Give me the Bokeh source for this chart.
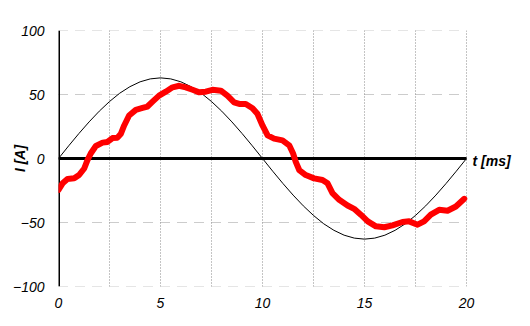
from bokeh.plotting import figure
from bokeh.models import FixedTicker
from bokeh.core.properties import value
from bokeh.embed import file_html
from bokeh.resources import INLINE

# ---- data ----
x_ticks = [0, 5, 10, 15, 20]
y_ticks = [-100, -50, 0, 50, 100]
x_grid = [2.5, 5, 7.5, 10, 12.5, 15, 17.5, 20]
y_grid = [-100, -50, 50, 100]
t_min, t_max = 0, 20
i_min, i_max = -100, 100

# reference sine (thin black)
sine_t = [0, 0.5, 1, 1.5, 2, 2.5, 3, 3.5, 4, 4.5, 5, 5.5, 6, 6.5, 7, 7.5, 8, 8.5, 9, 9.5, 10,
          10.5, 11, 11.5, 12, 12.5, 13, 13.5, 14, 14.5, 15, 15.5, 16, 16.5, 17, 17.5, 18, 18.5, 19, 19.5, 20]
sine_i = [0, 9.9, 19.5, 28.6, 37.0, 44.5, 51.0, 56.1, 59.9, 62.2, 63.0, 62.2, 59.9, 56.1, 51.0, 44.5, 37.0, 28.6, 19.5, 9.9, 0,
          -9.9, -19.5, -28.6, -37.0, -44.5, -51.0, -56.1, -59.9, -62.2, -63.0, -62.2, -59.9, -56.1, -51.0, -44.5, -37.0, -28.6, -19.5, -9.9, 0]

# measured current (thick red)
red_t = [0, 0.2, 0.44, 0.77, 1.01, 1.26, 1.42, 1.58, 1.83, 2.16, 2.4, 2.65, 2.89, 3.06, 3.22, 3.46,
         3.79, 4.12, 4.36, 4.61, 4.93, 5.26, 5.59, 5.92, 6.24, 6.57, 6.9, 7.22, 7.55, 7.96, 8.28,
         8.61, 8.86, 9.18, 9.51, 9.75, 10.0, 10.25, 10.57, 10.98, 11.31, 11.5, 11.63, 11.8, 12.12,
         12.53, 12.94, 13.19, 13.43, 13.76, 14.17, 14.49, 14.82, 15.16, 15.56, 15.97, 16.37, 16.86,
         17.19, 17.6, 17.92, 18.25, 18.66, 19.07, 19.48, 19.89]
red_i = [-24.5, -19.4, -16.0, -15.5, -12.9, -7.8, -1.3, 3.9, 9.8, 12.4, 12.9, 16.0, 16.3, 19.4, 25.8, 33.6,
         38.0, 39.5, 40.6, 44.4, 49.1, 52.2, 55.6, 56.8, 55.6, 53.7, 51.7, 52.2, 53.7, 53.0, 49.1,
         43.9, 42.6, 42.6, 39.3, 34.9, 25.8, 18.1, 15.5, 14.2, 10.3, 3.9, -2.6, -9.0, -12.9,
         -15.5, -16.8, -19.4, -27.1, -32.3, -36.7, -39.3, -43.9, -49.1, -53.0, -53.7, -52.2, -49.6,
         -49.1, -51.7, -49.1, -43.9, -40.1, -40.8, -37.5, -31.5]

TICK_FONT = "Liberation Sans Narrow, Arial Narrow, Liberation Sans, Arial"

# frame: 20 ms spans 408 px; the frame is extended to the right edge so the
# "t [ms]" label can be drawn next to the time axis
left_px, right_px = 58, 530
px_per_ms = 408 / (t_max - t_min)
x_end = t_min + (right_px - left_px) / px_per_ms

p = figure(width=530, height=326, x_range=(t_min, x_end), y_range=(i_min, i_max),
           output_backend="svg", toolbar_location=None,
           min_border_left=left_px, min_border_right=0, min_border_top=30, min_border_bottom=40)
p.outline_line_color = None
p.background_fill_color = "white"
p.border_fill_color = "white"
p.grid.visible = False

# axes (labels only)
for ax in (p.xaxis[0], p.yaxis[0]):
    ax.axis_line_color = None
    ax.major_tick_line_color = None
    ax.minor_tick_line_color = None
    ax.major_label_text_font = TICK_FONT
    ax.major_label_text_font_style = "italic"
    ax.major_label_text_font_size = "14px"
    ax.major_label_text_color = "black"
p.xaxis.ticker = FixedTicker(ticks=x_ticks)
p.yaxis.ticker = FixedTicker(ticks=y_ticks)
p.xaxis.major_label_standoff = 5
p.yaxis.major_label_standoff = 8
p.yaxis.axis_label = "I [A]"
p.yaxis.axis_label_text_font = "Liberation Sans"
p.yaxis.axis_label_text_font_style = "bold italic"
p.yaxis.axis_label_text_font_size = "14px"
p.yaxis.axis_label_text_color = "black"
p.yaxis.axis_label_standoff = -18

# dotted grid
p.segment(x0=x_grid, y0=[i_min] * len(x_grid), x1=x_grid, y1=[i_max] * len(x_grid),
          line_color="#888888", line_width=1, line_dash="1 2")
p.segment(x0=[t_min] * len(y_grid), y0=y_grid, x1=[t_max] * len(y_grid), y1=y_grid,
          line_color="#999999", line_width=1, line_dash="1 1 1 1 1 1 1 1 1 8")

# thick axis lines
p.line([t_min, t_min], [i_min, i_max], line_color="black", line_width=3)
p.line([t_min, t_max], [0, 0], line_color="black", line_width=3)

# curves
p.line(sine_t, sine_i, line_color="black", line_width=1)
p.line(red_t, red_i, line_color="#ff0000", line_width=6, line_join="round", line_cap="round")

# time axis label
p.text(x=[t_max], y=[0], text=["t [ms]"], x_offset=6, y_offset=2,
       text_align="left", text_baseline="middle", text_font=value("Liberation Sans"),
       text_font_style="bold italic", text_font_size="14px", text_color="black")

open("out.html", "w").write(file_html(p, INLINE))
